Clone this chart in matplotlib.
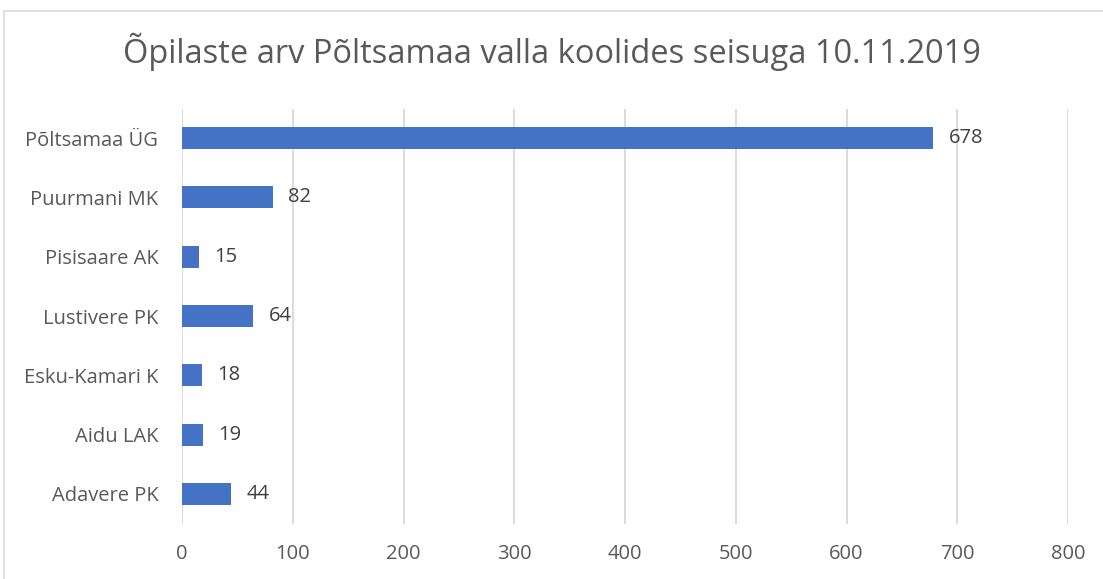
import matplotlib.pyplot as plt
from matplotlib.patches import Rectangle

schools = ['Põltsamaa ÜG', 'Puurmani MK', 'Pisisaare AK', 'Lustivere PK',
           'Esku-Kamari K', 'Aidu LAK', 'Adavere PK']
students = [678, 82, 15, 64, 18, 19, 44]
xticks = [0, 100, 200, 300, 400, 500, 600, 700, 800]

plt.rcParams['font.family'] = ['Open Sans', 'DejaVu Sans']

W, H = 1103, 579
fig = plt.figure(figsize=(W / 100, H / 100), dpi=100)
ax = fig.add_axes([182 / W, 1 - 523.5 / H, (1068 - 182) / W, (523.5 - 108.5) / H])

ypos = list(range(len(schools)))
ax.barh(ypos, students, height=0.37, color='#4472C4', zorder=3)
for y, v in zip(ypos, students):
    ax.text(v + 14, y, str(v), va='center', ha='left', fontsize=14.5, color='#404040')

ax.set_yticks(ypos)
ax.set_yticklabels(schools)
ax.set_ylim(len(schools) - 0.5, -0.5)
ax.set_xlim(0, 800)
ax.set_xticks(xticks)
ax.grid(axis='x', color='#D9D9D9', linewidth=1.3, zorder=0)
for s in ax.spines.values():
    s.set_visible(False)
ax.tick_params(length=0, labelsize=14.5, labelcolor='#595959')
ax.tick_params(axis='y', pad=17)
ax.tick_params(axis='x', pad=15)

fig.text(0.5, 1 - 52 / H, 'Õpilaste arv Põltsamaa valla koolides seisuga 10.11.2019',
         ha='center', va='center', fontsize=23.5, color='#595959')

fig.patches.append(Rectangle((3.5 / W, -0.1), 1.2, 1 - 10.5 / H + 0.1,
                             transform=fig.transFigure, fill=False,
                             edgecolor='#D9D9D9', linewidth=1.2))

fig.savefig('out.png', dpi=100)
